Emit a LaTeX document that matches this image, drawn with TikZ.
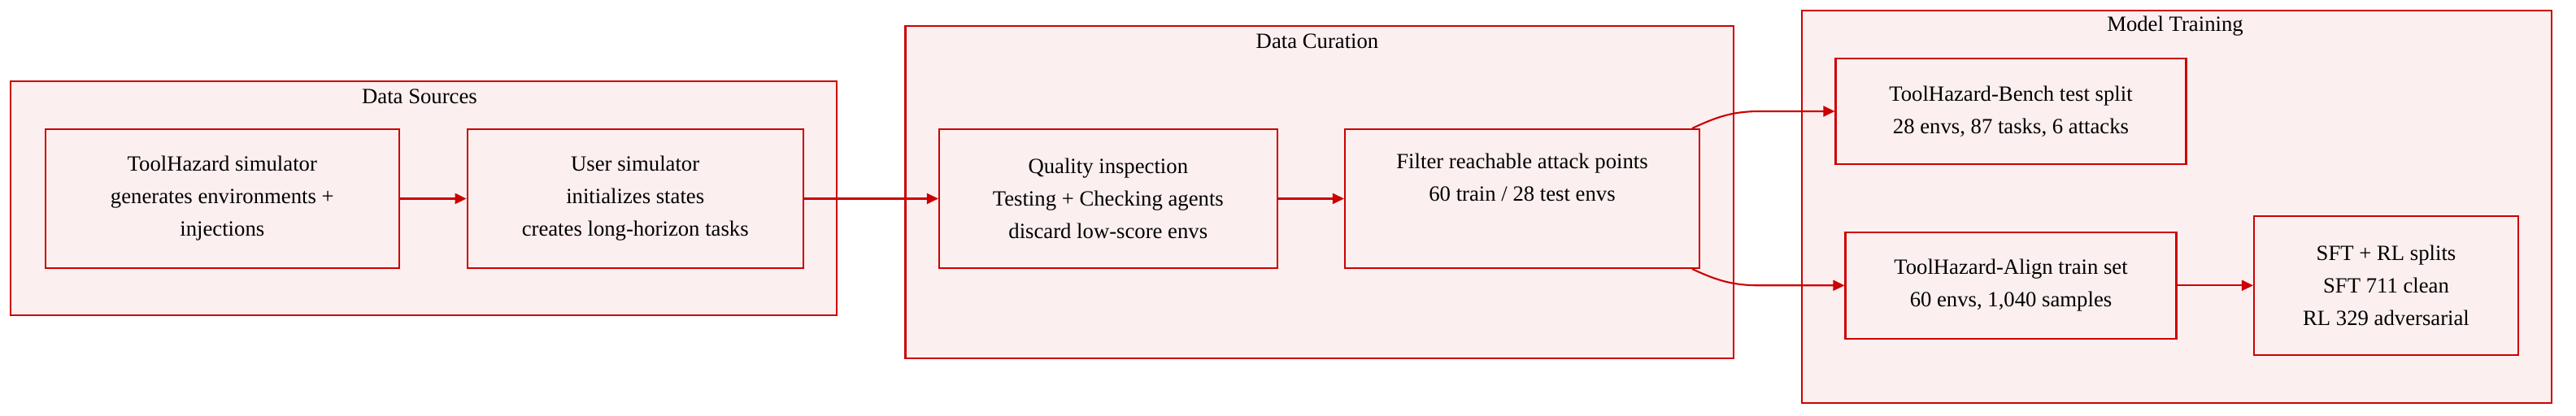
\documentclass[tikz,border=0pt]{standalone}
\usepackage{fontspec}
\setmainfont{Liberation Serif}
\usetikzlibrary{positioning,arrows.meta}
\definecolor{thred}{HTML}{CC0000}
\definecolor{thpink}{HTML}{FCEFEF}
\tikzset{
  thbox/.style={draw=thred, fill=thpink, line width=0.6pt, align=center,
                inner sep=2pt, minimum height=1.71cm},
  thcluster/.style={draw=thred, fill=thpink, line width=0.6pt},
  thtitle/.style={inner sep=0pt, align=center},
  tharrow/.style={-{Triangle[length=1.4mm, width=1.3mm]}, line width=0.6pt, draw=thred},
}

\begin{document}
\begin{tikzpicture}[font=\fontsize{7.6}{11.4}\selectfont]
        \useasboundingbox (0,0) rectangle (31.68,-5.12);
        % ---------------- clusters ----------------
        \draw[thcluster] (0.134,-1.00) rectangle (10.29,-3.88);
        \draw[thcluster] (11.135,-0.317) rectangle (21.32,-4.407);
        \draw[thcluster] (22.16,-0.133) rectangle (31.38,-4.957);
        \node[thtitle] (dstitle) at (5.16,-1.19) {Data Sources};
        \node[thtitle] (dctitle) at (16.2,-0.507) {Data Curation};
        \node[thtitle] (mttitle) at (26.75,-0.317) {Model Training};
        % ---------------- steps ----------------
        \node[thbox, minimum width=4.354cm] (sim) at (2.733,-2.445) {ToolHazard simulator\\ generates environments +\\ injections};
        \node[thbox, minimum width=4.131cm] (user) at (7.812,-2.445) {User simulator\\ initializes states\\ creates long-horizon tasks};
        \node[thbox, minimum width=4.156cm] (quality) at (13.628,-2.445) {Quality inspection\\ Testing + Checking agents\\ discard low-score envs};
        \node[thbox, minimum width=4.36cm] (filter) at (18.72,-2.445) {Filter reachable attack points\\ 60 train / 28 test envs\\ \strut};
        \node[thbox, minimum width=4.31cm, minimum height=1.306cm] (bench) at (24.73,-1.37) {ToolHazard-Bench test split\\ 28 envs, 87 tasks, 6 attacks};
        \node[thbox, minimum width=4.07cm, minimum height=1.307cm] (align) at (24.73,-3.513) {ToolHazard-Align train set\\ 60 envs, 1,040 samples};
        \node[thbox, minimum width=3.25cm, minimum height=1.713cm] (splits) at (29.345,-3.513) {SFT + RL splits\\ SFT 711 clean\\ RL 329 adversarial};
        % ---------------- arrows ----------------
        \draw[tharrow] (sim) -- (user);
        \draw[tharrow] (user) -- (quality);
        \draw[tharrow] (quality) -- (filter);
        \draw[tharrow] ([xshift=-1mm]filter.north east) to[out=25, in=180] ([xshift=-9.2mm]bench.west) -- (bench.west);
        \draw[tharrow] ([xshift=-1mm]filter.south east) to[out=-25, in=180] ([xshift=-10.4mm]align.west) -- (align.west);
        \draw[tharrow] (align) -- (splits);
    \end{tikzpicture}
\end{document}
